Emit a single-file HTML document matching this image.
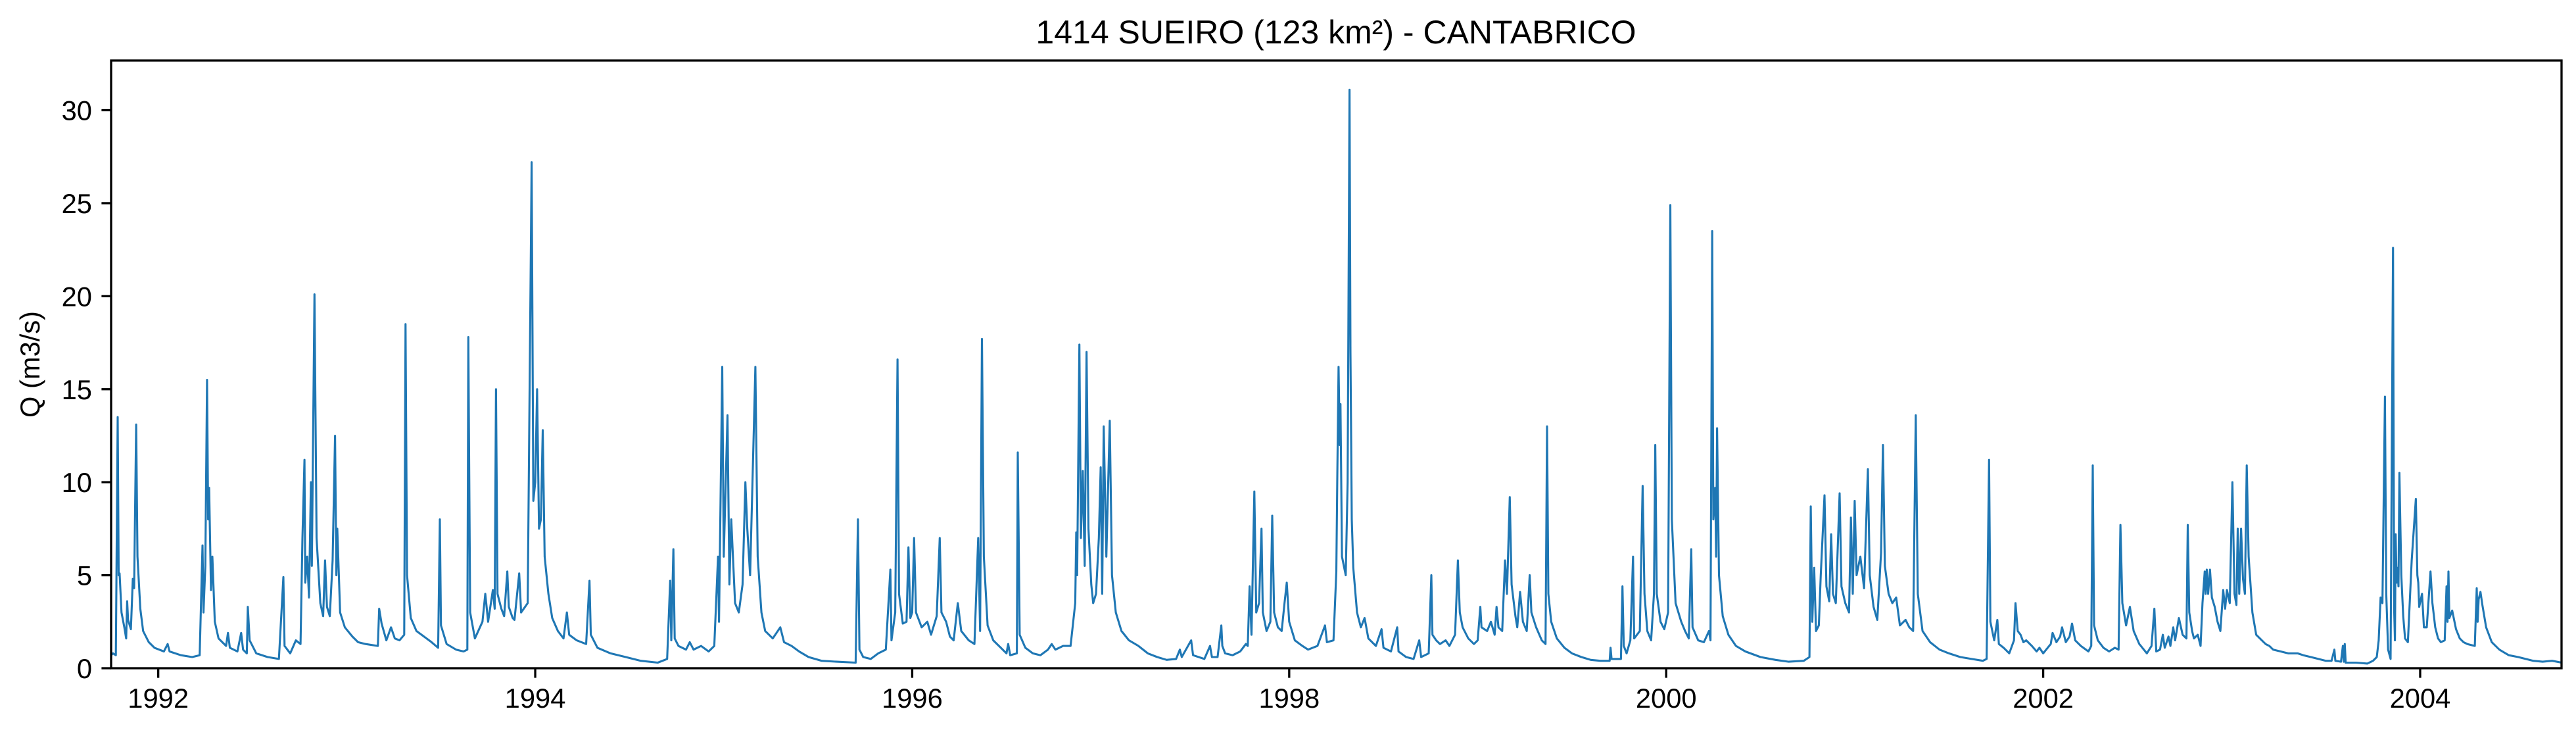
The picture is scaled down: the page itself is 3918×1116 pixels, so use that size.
<!DOCTYPE html>
<html><head><meta charset="utf-8"><style>
html,body{margin:0;padding:0;background:#fff;}
svg{display:block;font-family:"Liberation Sans","DejaVu Sans",sans-serif;}
</style></head><body>
<svg id="chart" width="3918" height="1116" viewBox="0 0 3918 1116" xmlns="http://www.w3.org/2000/svg">
<rect x="0" y="0" width="3918" height="1116" fill="#fff"/>
<text x="2032" y="66" font-size="50" text-anchor="middle" fill="#000">1414 SUEIRO (123 km²) - CANTABRICO</text>
<text x="0" y="0" font-size="41.7" text-anchor="middle" fill="#000" transform="translate(60,554) rotate(-90)">Q (m3/s)</text>
<g id="plot"></g>
<g id="axes"></g>
</svg>
<script>
const yTicks = [0, 5, 10, 15, 20, 25, 30];
const xTickYears = [1992, 1994, 1996, 1998, 2000, 2002, 2004];
const xDomain = [1991.75, 2004.75];
const yDomain = [0, 32.67];
const dates = [
1991.75,1991.76,1991.775,1991.785,1991.79,1991.795,1991.805,1991.82,1991.83,1991.835,1991.84,1991.855,1991.865,1991.872,1991.883,1991.89,1991.905,1991.92,1991.95,1991.98,
1992.03,1992.05,1992.06,1992.12,1992.18,1992.22,1992.235,1992.24,1992.25,1992.259,1992.265,1992.27,1992.28,1992.287,1992.30,1992.32,1992.34,1992.36,1992.37,1992.38,
1992.42,1992.44,1992.45,1992.47,1992.475,1992.485,1992.52,1992.58,1992.64,1992.664,1992.67,1992.70,1992.73,1992.755,1992.765,1992.776,1992.78,1992.79,1992.80,1992.81,
1992.815,1992.829,1992.84,1992.86,1992.875,1992.885,1992.895,1992.91,1992.925,1992.938,1992.945,1992.95,1992.965,1992.99,1993.03,1993.06,1993.10,1993.165,1993.172,1993.185,
1993.21,1993.235,1993.255,1993.28,1993.305,1993.312,1993.32,1993.34,1993.37,1993.41,1993.45,1993.485,1993.494,1993.50,1993.53,1993.58,1993.62,1993.64,1993.645,1993.655,1993.68,
1993.72,1993.735,1993.75,1993.775,1993.785,1993.792,1993.80,1993.82,1993.835,1993.852,1993.86,1993.88,1993.89,1993.915,1993.925,1993.96,1993.981,1993.99,1994.0,1994.01,
1994.02,1994.03,1994.04,1994.05,1994.07,1994.09,1994.12,1994.15,1994.168,1994.18,1994.22,1994.27,1994.288,1994.295,1994.33,1994.40,1994.48,1994.56,1994.65,1994.70,
1994.716,1994.722,1994.733,1994.74,1994.76,1994.80,1994.82,1994.84,1994.88,1994.92,1994.95,1994.97,1994.975,1994.992,1995.0,1995.02,1995.03,1995.04,1995.06,1995.08,
1995.10,1995.115,1995.125,1995.14,1995.155,1995.168,1995.18,1995.20,1995.22,1995.26,1995.30,1995.32,1995.36,1995.40,1995.45,1995.52,1995.60,1995.70,1995.712,1995.72,
1995.74,1995.78,1995.82,1995.86,1995.884,1995.89,1995.91,1995.922,1995.93,1995.95,1995.97,1995.98,1995.99,1996.0,1996.01,1996.02,1996.05,1996.08,1996.10,1996.13,
1996.146,1996.155,1996.18,1996.20,1996.22,1996.242,1996.26,1996.30,1996.33,1996.35,1996.36,1996.37,1996.38,1996.40,1996.43,1996.47,1996.50,1996.509,1996.52,1996.555,1996.56,
1996.57,1996.60,1996.64,1996.68,1996.72,1996.74,1996.76,1996.80,1996.84,1996.865,1996.87,1996.875,1996.887,1996.895,1996.905,1996.915,1996.925,1996.935,1996.95,1996.96,
1996.975,1996.99,1997.0,1997.008,1997.016,1997.03,1997.048,1997.06,1997.08,1997.11,1997.15,1997.20,1997.25,1997.30,1997.35,1997.40,1997.42,1997.43,1997.48,1997.49,
1997.55,1997.58,1997.59,1997.62,1997.64,1997.645,1997.66,1997.70,1997.74,1997.77,1997.78,1997.79,1997.80,1997.815,1997.825,1997.84,1997.853,1997.86,1997.88,1997.90,
1997.91,1997.92,1997.94,1997.96,1997.975,1997.987,1998.0,1998.03,1998.07,1998.10,1998.15,1998.19,1998.20,1998.235,1998.25,1998.255,1998.262,1998.268,1998.272,1998.28,
1998.30,1998.31,1998.32,1998.325,1998.332,1998.34,1998.36,1998.38,1998.40,1998.42,1998.46,1998.49,1998.50,1998.54,1998.573,1998.58,1998.62,1998.66,1998.69,1998.70,
1998.74,1998.754,1998.76,1998.78,1998.80,1998.83,1998.85,1998.88,1998.895,1998.905,1998.92,1998.95,1998.98,1999.0,1999.014,1999.02,1999.05,1999.07,1999.09,1999.10,
1999.11,1999.13,1999.145,1999.155,1999.17,1999.18,1999.20,1999.21,1999.225,1999.24,1999.26,1999.276,1999.285,1999.31,1999.34,1999.36,1999.368,1999.375,1999.39,1999.42,
1999.46,1999.50,1999.55,1999.60,1999.65,1999.70,1999.705,1999.71,1999.76,1999.768,1999.775,1999.79,1999.81,1999.824,1999.83,1999.86,1999.875,1999.885,1999.90,1999.92,
1999.935,1999.942,1999.95,1999.97,1999.99,2000.01,2000.022,2000.03,2000.05,2000.08,2000.10,2000.12,2000.133,2000.14,2000.17,2000.20,2000.227,2000.235,2000.244,2000.25,
2000.26,2000.265,2000.27,2000.28,2000.30,2000.33,2000.37,2000.42,2000.50,2000.58,2000.65,2000.73,2000.76,2000.767,2000.775,2000.785,2000.795,2000.81,2000.82,2000.84,
2000.85,2000.865,2000.875,2000.885,2000.90,2000.92,2000.93,2000.95,2000.97,2000.98,2000.99,2001.0,2001.01,2001.03,2001.05,2001.07,2001.08,2001.10,2001.12,2001.14,
2001.15,2001.16,2001.18,2001.20,2001.22,2001.24,2001.27,2001.29,2001.31,2001.324,2001.335,2001.36,2001.40,2001.45,2001.50,2001.56,2001.62,2001.68,2001.70,2001.713,
2001.72,2001.74,2001.757,2001.765,2001.79,2001.82,2001.845,2001.853,2001.865,2001.88,2001.895,2001.91,2001.94,2001.965,2001.98,2002.0,2002.04,2002.05,2002.07,2002.09,
2002.10,2002.12,2002.14,2002.153,2002.17,2002.20,2002.24,2002.255,2002.263,2002.27,2002.29,2002.32,2002.35,2002.38,2002.40,2002.41,2002.42,2002.44,2002.46,2002.48,
2002.51,2002.55,2002.575,2002.59,2002.60,2002.62,2002.635,2002.645,2002.665,2002.675,2002.69,2002.70,2002.72,2002.74,2002.76,2002.767,2002.775,2002.79,2002.80,2002.82,
2002.835,2002.845,2002.857,2002.862,2002.868,2002.875,2002.885,2002.895,2002.91,2002.925,2002.94,2002.955,2002.965,2002.975,2002.99,2003.004,2003.015,2003.025,2003.032,2003.04,
2003.05,2003.06,2003.07,2003.08,2003.09,2003.11,2003.13,2003.16,2003.18,2003.20,2003.22,2003.26,2003.30,2003.35,2003.38,2003.42,2003.46,2003.50,2003.53,2003.545,
2003.55,2003.58,2003.59,2003.595,2003.60,2003.605,2003.66,2003.72,2003.75,2003.77,2003.78,2003.79,2003.80,2003.813,2003.82,2003.83,2003.843,2003.856,2003.862,2003.866,
2003.87,2003.875,2003.88,2003.885,2003.89,2003.90,2003.91,2003.92,2003.935,2003.955,2003.977,2003.985,2003.99,2003.995,2004.01,2004.02,2004.035,2004.055,2004.065,2004.08,
2004.095,2004.11,2004.13,2004.14,2004.145,2004.15,2004.155,2004.17,2004.19,2004.21,2004.23,2004.25,2004.29,2004.30,2004.305,2004.31,2004.32,2004.33,2004.35,2004.38,
2004.42,2004.47,2004.52,2004.56,2004.60,2004.65,2004.70,2004.75
];
const flows = [
0.7,0.8,0.7,13.5,5,5.1,3,2.2,1.6,3.6,2.6,2.1,4.8,4.3,13.1,6,3.2,2,1.4,1.1,
0.9,1.3,0.9,0.7,0.6,0.7,6.6,3,5.5,15.5,8,9.7,4.2,6,2.5,1.6,1.4,1.2,1.9,1.1,
0.9,1.9,1.0,0.8,3.3,1.5,0.8,0.6,0.5,4.9,1.2,0.8,1.5,1.3,7,11.2,4.6,6,3.8,10,
5.5,20.1,7,3.5,2.8,5.8,3.3,2.8,5.8,12.5,5,7.5,3,2.2,1.7,1.4,1.3,1.2,3.2,2.4,
1.5,2.2,1.6,1.5,1.8,18.5,5,2.7,2,1.7,1.4,1.1,8,2.3,1.3,1.0,0.9,1.0,17.8,3,1.6,
2.5,4,2.5,4.2,3.2,15,4,3.2,2.8,5.2,3.3,2.7,2.6,5.1,3,3.5,27.2,9,10,15,
7.5,8,12.8,6,4,2.7,2,1.6,3,1.8,1.5,1.3,4.7,1.8,1.1,0.8,0.6,0.4,0.3,0.5,
4.7,1.5,6.4,1.6,1.2,1.0,1.4,1.0,1.2,0.9,1.2,6,2.5,16.2,6,13.6,4.5,8,3.5,3,
4.5,10,7.5,5,11,16.2,6,3,2,1.6,2.2,1.4,1.2,0.9,0.6,0.4,0.35,0.3,8,1,
0.6,0.5,0.8,1.0,5.3,1.5,3,16.6,4,2.4,2.5,6.5,2.7,3,7,3,2.2,2.5,1.8,2.8,
7,3,2.5,1.7,1.5,3.5,2,1.5,1.3,7,2,17.7,6,2.3,1.5,1.1,0.8,1.3,0.7,0.8,11.6,
1.8,1.1,0.8,0.7,1.0,1.3,1.0,1.2,1.2,3.5,7.3,5,17.4,7,10.6,5.5,17,7.5,4.5,3.5,
4,7,10.8,4,13,6,13.3,5,3,2,1.5,1.2,0.8,0.6,0.45,0.5,1.0,0.6,1.5,0.7,
0.5,1.2,0.6,0.6,2.3,1.2,0.8,0.7,0.9,1.3,1.2,4.4,1.8,9.5,3,3.5,7.5,3,2,2.5,
8.2,3,2.2,2.0,3.5,4.6,2.5,1.5,1.2,1.0,1.2,2.3,1.4,1.5,5.2,10,16.2,12,14.2,6,
5,10,31.1,17,8,5.4,3,2.2,2.7,1.6,1.2,2.1,1.1,0.9,2.2,0.9,0.6,0.5,1.5,0.6,
0.8,5,1.8,1.5,1.3,1.5,1.2,1.8,5.8,3,2.2,1.6,1.3,1.5,3.3,2.2,2,2.5,1.8,3.3,
2.2,2,5.8,4,9.2,4.5,2.8,2.2,4.1,2.5,2,5,3,2.2,1.5,1.3,13,4,2.5,1.6,
1.1,0.8,0.6,0.45,0.4,0.4,1.1,0.5,0.5,4.4,1.2,0.8,1.5,6,1.6,2,9.8,4,2,1.5,
4,12,4,2.5,2.1,3,24.9,8,3.5,2.5,2,1.6,6.4,2.2,1.5,1.4,2,1.5,23.5,8,
9.7,6,12.9,5,2.8,1.8,1.2,0.9,0.6,0.45,0.35,0.4,0.6,8.7,2.5,5.4,2,2.3,5,9.3,
4.4,3.6,7.2,4,3.5,9.4,4.4,3.5,3,8.1,4,9,5,6,4.3,10.7,5,3.3,2.6,6.2,
12,5.5,4,3.5,3.8,2.3,2.6,2.2,2,13.6,4,2,1.4,1.0,0.8,0.6,0.5,0.4,0.5,11.2,
2.5,1.5,2.6,1.3,1.1,0.8,1.5,3.5,2,1.8,1.4,1.5,1.2,0.9,1.1,0.8,1.3,1.9,1.4,1.7,
2.2,1.4,1.7,2.4,1.5,1.2,0.9,1.2,10.9,2.3,1.5,1.1,0.9,1.1,1.0,7.7,3.5,2.3,3.3,2.0,
1.3,0.8,1.2,3.2,0.9,1.0,1.8,1.1,1.7,1.2,2.2,1.5,2.7,1.8,1.6,7.7,3,2,1.6,1.8,
1.2,3.5,5.2,4,5.3,4,5.3,3.8,3.3,2.5,2.0,4.2,3.2,4.2,3.5,10,4,3.4,7.5,4,
7.5,4.8,4,10.9,6,3,1.8,1.5,1.3,1.2,1.0,0.9,0.8,0.8,0.7,0.6,0.5,0.4,0.4,1.0,
0.4,0.35,1.2,0.35,1.3,0.3,0.3,0.25,0.4,0.6,1.5,3.8,3.5,14.6,4,1.0,0.5,22.6,3.2,1.5,
7.2,4.6,5.4,4.4,10.5,5,2.8,1.6,1.4,5.8,9.1,5,4.6,3.3,4,2.2,2.2,5.2,3.5,2.2,
1.6,1.4,1.5,4.4,2.5,5.2,2.7,3.1,2.1,1.6,1.4,1.3,1.2,4.3,2.5,3.7,4.1,3.4,2.2,1.4,
1.0,0.7,0.6,0.5,0.4,0.35,0.4,0.3
];
const NS = 'http://www.w3.org/2000/svg';
const L = 169, R = 3896, T = 92, B = 1016;
function xScale(t){ return L + (t - xDomain[0]) / (xDomain[1] - xDomain[0]) * (R - L); }
function yScale(v){ return B - (v - yDomain[0]) / (yDomain[1] - yDomain[0]) * (B - T); }
const plot = document.getElementById('plot');
const axes = document.getElementById('axes');
const n = Math.min(dates.length, flows.length);
let d = '';
for (let i = 0; i < n; i++) {
  d += (i ? 'L' : 'M') + xScale(dates[i]).toFixed(1) + ' ' + yScale(flows[i]).toFixed(1);
}
const line = document.createElementNS(NS, 'path');


line.setAttribute('d', d);
line.setAttribute('fill', 'none');
line.setAttribute('stroke', '#1f77b4');
line.setAttribute('stroke-width', '3.1');
line.setAttribute('stroke-linejoin', 'round');
line.setAttribute('clip-path', 'url(#clipPlot)');
const defs = document.createElementNS(NS, 'defs');
defs.innerHTML = '<clipPath id="clipPlot"><rect x="' + L + '" y="' + T + '" width="' + (R - L) + '" height="' + (B - T) + '"/></clipPath>';
plot.appendChild(defs);
plot.appendChild(line);
const frame = document.createElementNS(NS, 'rect');


frame.setAttribute('x', L); frame.setAttribute('y', T);
frame.setAttribute('width', R - L); frame.setAttribute('height', B - T);
frame.setAttribute('fill', 'none'); frame.setAttribute('stroke', '#000'); frame.setAttribute('stroke-width', '3.3');
axes.appendChild(frame);
yTicks.forEach(v => {
  const y = yScale(v);
  const tk = document.createElementNS(NS, 'line');
  
  
  tk.setAttribute('x1', L - 14.6); tk.setAttribute('x2', L); tk.setAttribute('y1', y); tk.setAttribute('y2', y);
  tk.setAttribute('stroke', '#000'); tk.setAttribute('stroke-width', '3.3');
  axes.appendChild(tk);
  const tx = document.createElementNS(NS, 'text');
  
  
  tx.setAttribute('x', L - 29); tx.setAttribute('y', y + 15);
  tx.setAttribute('font-size', '41.7'); tx.setAttribute('text-anchor', 'end');
  tx.textContent = String(v);
  axes.appendChild(tx);
});
xTickYears.forEach(yr => {
  const x = xScale(yr);
  const tk = document.createElementNS(NS, 'line');
  
  
  tk.setAttribute('x1', x); tk.setAttribute('x2', x); tk.setAttribute('y1', B); tk.setAttribute('y2', B + 14.6);
  tk.setAttribute('stroke', '#000'); tk.setAttribute('stroke-width', '3.3');
  axes.appendChild(tk);
  const tx = document.createElementNS(NS, 'text');
  
  
  tx.setAttribute('x', x); tx.setAttribute('y', B + 60);
  tx.setAttribute('font-size', '41.7'); tx.setAttribute('text-anchor', 'middle');
  tx.textContent = String(yr);
  axes.appendChild(tx);
});
</script>
</body></html>
